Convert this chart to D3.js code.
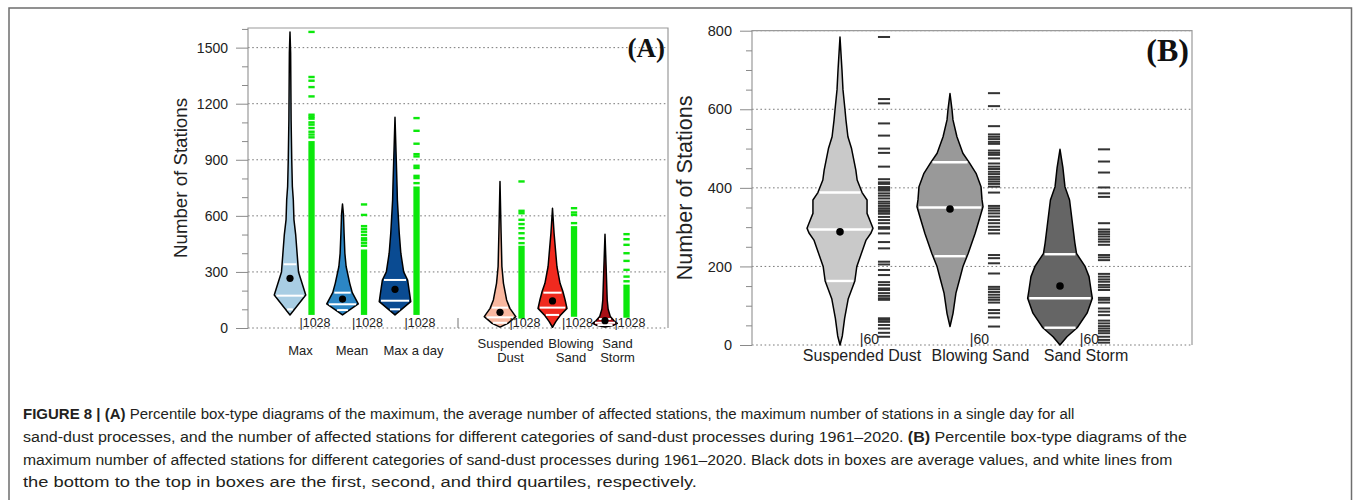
<!DOCTYPE html>
<html><head><meta charset="utf-8">
<script src="https://cdn.jsdelivr.net/npm/d3@7"></script>
<style>
body{margin:0;background:#fff;}
svg{display:block;font-family:"Liberation Sans",Arial,Helvetica,sans-serif;}
</style>
</head><body>
<svg id="chart" width="1355" height="500"></svg>
<script>
// ---------------- DATA ----------------
// Panel A categories
const catsA = ["Max", "Mean", "Max a day", "Suspended\nDust", "Blowing\nSand", "Sand\nStorm"];
const countA = ["1028", "1028", "1028", "1028", "1028", "1028"];
const yTicksA = [0, 300, 600, 900, 1200, 1500];
// violin profiles: [value, relative half-width]
const profMaxA = [[70,0],[177,1],[300,0.54],[500,0.36],[580,0.25],[686,0.21],[757,0.15],[900,0.11],[1114,0.07],[1471,0.04],[1584,0]];
const profMeanA = [[70,0],[129,1],[189,0.62],[239,0.46],[329,0.23],[400,0.15],[507,0.1],[610,0.06],[663,0]];
const profMaxDayA = [[70,0],[141,1],[200,0.9],[257,0.8],[300,0.55],[400,0.37],[506,0.27],[686,0.15],[757,0.13],[900,0.08],[1127,0]];
const profSusA = [[5,0],[25,0.5],[61,1],[105,0.63],[150,0.42],[239,0.22],[329,0.12],[507,0.07],[784,0]];
const profBlowA = [[4,0],[34,0.21],[70,0.52],[105,0.92],[150,0.8],[195,0.66],[239,0.48],[329,0.28],[507,0.1],[641,0]];
const profStormA = [[5,0],[15,0.56],[25,0.78],[40,0.56],[61,0.34],[100,0.2],[150,0.14],[329,0.07],[502,0]];
const q1A = [100, 96, 100, 28, 70, 16];
const q2A = [173, 127, 146, 57, 109, 28];
const q3A = [341, 189, 257, 109, 189, 48];
const meanA = [266, 155, 207, 84, 145, 39];
// rug (green) : dense ranges and isolated values
const rugDenseA = [[70,1000],[70,420],[70,757],[50,440],[60,545],[55,232]];
const rugMaxA = [1584,1343,1323,1289,1239,1141,1130,1120,1100,1088,1070,1050,1035,1020];
const rugMeanA = [661,605,545,530,515,498,480,470,455,440];
const rugMaxDayA = [1123,1055,986,930,918,868,856,814,802,775];
const rugSusA = [784,627,614,579,556,534,507,480,454];
const rugBlowA = [641,618,605,561];
const rugStormA = [502,475,445,400,359,311,275,250];

// Panel B categories
const catsB = ["Suspended Dust", "Blowing Sand", "Sand Storm"];
const countB = ["60", "60", "60"];
const yTicksB = [0, 200, 400, 600, 800];
const profSusB = [[0,0],[23,0.07],[68,0.14],[118,0.25],[163,0.45],[200,0.51],[267,0.79],[285,0.94],[297,1],[310,0.94],[335,0.82],[369,0.82],[388,0.67],[420,0.52],[445,0.48],[500,0.35],[530,0.24],[573,0.18],[600,0.15],[650,0.09],[700,0.06],[784,0]];
const profBlowB = [[47,0],[80,0.09],[132,0.18],[170,0.3],[199,0.39],[233,0.55],[284,0.76],[326,0.91],[352,1],[370,0.97],[403,0.94],[437,0.79],[465,0.58],[488,0.39],[530,0.21],[573,0.09],[600,0.06],[640,0]];
const profStormB = [[0,0],[21,0.21],[44,0.52],[81,0.82],[119,0.98],[140,0.94],[174,0.88],[200,0.76],[233,0.5],[260,0.45],[301,0.39],[369,0.29],[403,0.15],[450,0.09],[498,0]];
const q1B = [163, 226, 44];
const q2B = [294, 350, 119];
const q3B = [388, 465, 231];
const meanB = [288, 346, 150];
const rugSusB = [784,626,615,564,533,500,489,454,422,414,410,402,399,395,393,386,380,373,365,360,354,348,343,339,334,326,318,310,300,296,284,262,246,212,205,191,178,160,153,144,140,132,125,119,115,68,64,59,51,42,31,21];
const rugBlowB = [641,608,557,536,530,524,517,512,495,489,484,475,462,454,448,441,435,428,422,416,410,403,388,354,348,342,335,327,318,310,301,293,284,229,221,208,182,148,142,135,128,121,115,108,89,81,70,47];
const rugStormB = [498,467,439,401,386,377,310,294,288,282,276,269,263,255,229,223,216,181,174,167,161,153,147,140,120,115,108,93,85,76,62,55,48,42,36,30,21,13,6];

// Caption
const captionLines = [
  [["FIGURE 8 | (A)", true], [" Percentile box-type diagrams of the maximum, the average number of affected stations, the maximum number of stations in a single day for all", false]],
  [["sand-dust processes, and the number of affected stations for different categories of sand-dust processes during 1961\u20132020. ", false], ["(B)", true], [" Percentile box-type diagrams of the", false]],
  [["maximum number of affected stations for different categories of sand-dust processes during 1961\u20132020. Black dots in boxes are average values, and white lines from", false]],
  [["the bottom to the top in boxes are the first, second, and third quartiles, respectively.", false]]
];

// ---------------- STYLES / LAYOUT ----------------
const fillA = ["#a8cde3", "#2c86c4", "#0a4b92", "#f9b8a0", "#f02a1f", "#a80f16"];
const fillB = ["#c9c9c9", "#999999", "#656565"];
const rugGreen = "#0be80b";
const labelNudgeA = [0, -1, 8, 0, 8, 2];   // px
const labelNudgeB = [0, 8.5, 4];          // px

// ---------------- DRAW ----------------
const svg = d3.select("#chart");
svg.append("rect").attr("x", 9).attr("y", 8).attr("width", 1342.5).attr("height", 600)
  .attr("fill", "none").attr("stroke", "#6e6e6e").attr("stroke-width", 1.5);

function halfAt(prof, v) {
  for (let i = 0; i < prof.length - 1; i++) {
    const a = prof[i], b = prof[i + 1];
    if (v >= a[0] && v <= b[0]) return a[1] + (b[1] - a[1]) * (v - a[0]) / (b[0] - a[0]);
  }
  return 0;
}

function panel(opts) {
  const {x, y, ticks, minorStep, cats, pos, profs, fills, q1, q2, q3, mean, counts,
         rugDraw, labelDraw, yTitle, yTitleX, yTitleFont, tickFont, tag, tagFont, tagY,
         wRel, lineW, dotR} = opts;
  const g = svg.append("g");
  const [x0, x1] = x.range();
  const [yb, yt] = y.range();
  // gridlines
  g.selectAll(".grid").data(ticks).enter().append("line")
    .attr("x1", x0).attr("x2", x1).attr("y1", d => y(d)).attr("y2", d => y(d))
    .attr("stroke", "#7a7a7a").attr("stroke-width", 1).attr("stroke-dasharray", "1.6,2.6");
  // frame (left, top, right)
  g.append("path").attr("d", `M${x0},${yb}V${yt}H${x1}V${yb}`)
    .attr("fill", "none").attr("stroke", "#9a9a9a").attr("stroke-width", 1.2);
  // axes
  const major = d3.axisLeft(y).tickValues(ticks).tickSize(12).tickPadding(8).tickFormat(d3.format("d"));
  const minorVals = d3.range(0, y.domain()[1] + 0.1, minorStep).filter(v => !ticks.includes(v));
  const minor = d3.axisLeft(y).tickValues(minorVals).tickSize(6).tickFormat("");
  const ga = g.append("g").attr("transform", `translate(${x0},0)`).call(major);
  const gm = g.append("g").attr("transform", `translate(${x0},0)`).call(minor);
  [ga, gm].forEach(a => { a.select(".domain").remove(); a.selectAll("line").attr("stroke", "#8a8a8a"); });
  ga.selectAll("text").attr("font-size", tickFont).attr("fill", "#222")
    .attr("font-family", "'Liberation Sans', Arial, sans-serif");
  // y title
  g.append("text").attr("transform", `translate(${yTitleX},${(yb + yt) / 2}) rotate(-90)`)
    .attr("text-anchor", "middle").attr("font-size", yTitleFont).attr("fill", "#222").text(yTitle);
  // rugs
  rugDraw(g);
  // violins
  const unit = x(1) - x(0);
  const maxPx = wRel * unit;
  cats.forEach((c, i) => {
    const cx = x(pos[i]);
    const area = d3.area().curve(d3.curveLinear)
      .y(d => y(d[0])).x0(d => cx - d[1] * maxPx).x1(d => cx + d[1] * maxPx);
    g.append("path").datum(profs[i]).attr("d", area).attr("fill", fills[i])
      .attr("stroke", "#000").attr("stroke-width", 1.5).attr("stroke-linejoin", "round");
    [q1[i], q2[i], q3[i]].forEach(q => {
      const hw = halfAt(profs[i], q) * maxPx - 1.6;
      if (hw > 0) g.append("line").attr("x1", cx - hw).attr("x2", cx + hw)
        .attr("y1", y(q)).attr("y2", y(q)).attr("stroke", "#fff").attr("stroke-width", lineW);
    });
    g.append("circle").attr("cx", cx).attr("cy", y(mean[i])).attr("r", dotR).attr("fill", "#000");
    // count label
    g.append("text").attr("x", x(pos[i] + 0.18)).attr("y", yb - 1.5)
      .attr("font-size", opts.countFont).attr("fill", "#222").text("|" + counts[i]);
    // category label
    labelDraw(g, c, x(pos[i] + 0.2), i);
  });
  // tag
  g.append("text").attr("x", x1 - 3).attr("y", tagY).attr("text-anchor", "end")
    .attr("font-family", "'Liberation Serif','Times New Roman',serif").attr("font-weight", "bold")
    .attr("font-size", tagFont).attr("fill", "#111").text(tag);
  return g;
}

// ----- Panel A -----
const posA = catsA.map((c, i) => i < 3 ? i + 1 : i + 2);
const xA = d3.scaleLinear().domain([0.2, 8.2]).range([248, 668]);
const yA = d3.scaleLinear().domain([0, 1605]).range([328, 28]);
const profsA = [profMaxA, profMeanA, profMaxDayA, profSusA, profBlowA, profStormA];
const rugsA = [rugMaxA, rugMeanA, rugMaxDayA, rugSusA, rugBlowA, rugStormA];
const gA = panel({
  x: xA, y: yA, ticks: yTicksA, minorStep: 100, cats: catsA, pos: posA, profs: profsA, fills: fillA,
  q1: q1A, q2: q2A, q3: q3A, mean: meanA, counts: countA, countFont: 12.5,
  wRel: 0.3, lineW: 2, dotR: 3.6, tickFont: 14,
  yTitle: "Number of Stations", yTitleX: 187, yTitleFont: 18.7,
  tag: "(A)", tagFont: 27, tagY: 57,
  rugDraw: g => {
    catsA.forEach((c, i) => {
      const xl = xA(posA[i] + 0.35), xr = xA(posA[i] + 0.47);
      const dr = rugDenseA[i];
      g.append("rect").attr("x", xl).attr("width", xr - xl).attr("y", yA(dr[1])).attr("height", yA(dr[0]) - yA(dr[1]))
        .attr("fill", rugGreen);
      g.selectAll(null).data(rugsA[i]).enter().append("rect")
        .attr("x", xl).attr("width", xr - xl).attr("y", d => yA(d) - 1.2).attr("height", 2.4).attr("fill", rugGreen);
    });
  },
  labelDraw: (g, c, cx, i) => {
    const lines = c.split("\n");
    const t = g.append("text").attr("text-anchor", "middle").attr("font-size", 13).attr("fill", "#222");
    const base = lines.length === 1 ? 355 : 347.5;
    lines.forEach((l, k) => t.append("tspan").attr("x", cx + labelNudgeA[i]).attr("y", base + k * 14).text(l));
  }
});
// group separator tick on bottom axis
gA.append("line").attr("x1", xA(4.2)).attr("x2", xA(4.2)).attr("y1", yA(0)).attr("y2", yA(0) - 10)
  .attr("stroke", "#8a8a8a").attr("stroke-width", 1.2);

// ----- Panel B -----
const posB = catsB.map((c, i) => i + 1);
const xB = d3.scaleLinear().domain([0.2, 4.2]).range([752, 1192]);
const yB = d3.scaleLinear().domain([0, 800]).range([345, 30.7]);
const profsB = [profSusB, profBlowB, profStormB];
const rugsB = [rugSusB, rugBlowB, rugStormB];
panel({
  x: xB, y: yB, ticks: yTicksB, minorStep: 50, cats: catsB, pos: posB, profs: profsB, fills: fillB,
  q1: q1B, q2: q2B, q3: q3B, mean: meanB, counts: countB, countFont: 14,
  wRel: 0.3, lineW: 2.4, dotR: 3.8, tickFont: 14.5,
  yTitle: "Number of Stations", yTitleX: 692, yTitleFont: 21.6,
  tag: "(B)", tagFont: 32, tagY: 61,
  rugDraw: g => {
    catsB.forEach((c, i) => {
      const xl = xB(posB[i] + 0.345), xr = xB(posB[i] + 0.455);
      g.selectAll(null).data(rugsB[i]).enter().append("rect")
        .attr("x", xl).attr("width", xr - xl).attr("y", d => yB(d) - 1).attr("height", 2).attr("fill", "#333");
    });
  },
  labelDraw: (g, c, cx, i) => {
    g.append("text").attr("x", cx + labelNudgeB[i]).attr("y", 361).attr("text-anchor", "middle")
      .attr("font-size", 16).attr("fill", "#222").text(c);
  }
});

// ----- Caption (condensed to the reference line widths) -----
const capWidths = [1052, 1165, 1150, 674];
const capY = [419, 442, 464.5, 487];
captionLines.forEach((segs, i) => {
  const t = svg.append("text").attr("x", 0).attr("y", 0).attr("font-size", 15.5).attr("fill", "#231f20");
  segs.forEach(s => t.append("tspan").attr("font-weight", s[1] ? "bold" : "normal").text(s[0]));
  const w = t.node().getComputedTextLength();
  const sx = w > 0 ? capWidths[i] / w : 1;
  t.attr("transform", `translate(23,${capY[i]}) scale(${sx},1)`);
});
</script>
</body></html>
